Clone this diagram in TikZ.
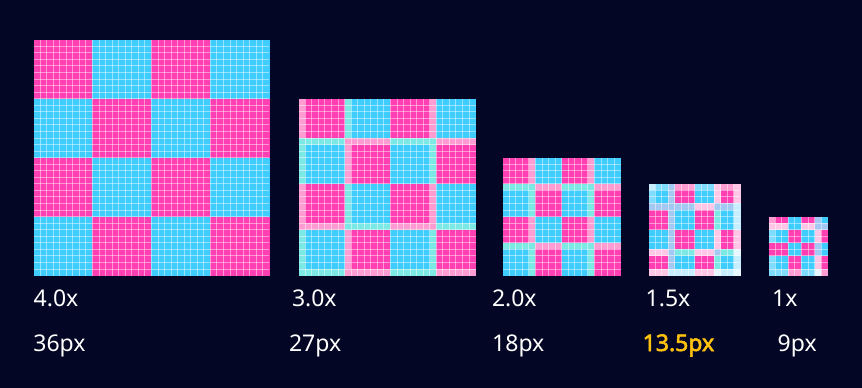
\documentclass[tikz,border=0pt]{standalone}
\usepackage{fontspec}
\setmainfont{Noto Sans}[AutoFakeBold=2.5]
\definecolor{bgc}{RGB}{3,6,36}
\definecolor{zP}{HTML}{FF3FB2}
\definecolor{zC}{HTML}{3FCDFF}
\definecolor{zp}{HTML}{FF9DD3}
\definecolor{zc}{HTML}{7DE9E5}
\definecolor{zb}{HTML}{A3C9F2}
\definecolor{zq}{HTML}{FFC6E6}
\definecolor{zd}{HTML}{C6EEFF}
\definecolor{ze}{HTML}{E6F7FF}
\definecolor{zl}{HTML}{7FDCFF}
\definecolor{amber}{HTML}{FFC20E}
\tikzset{
  gridline/.style={white,opacity=0.45,line width=0.9pt},
  lbl/.style={anchor=base west,inner sep=0pt,text=white,font=\fontsize{23}{27}\selectfont},
  hilbl/.style={anchor=base west,inner sep=0pt,text=amber,font=\fontsize{23}{27}\selectfont\bfseries}
}
% model square: #1 left, #2 top, #3 unit, #4 column map, #5 row map
\newcommand\modelsq[5]{%
  \foreach \ri/\rb [count=\j from 0] in {#5}{%
    \foreach \ci/\cb [count=\i from 0] in {#4}{%
      \pgfmathtruncatemacro\kk{2*mod(\ci+\ri,2)+min(\cb+\rb,1)}%
      \edef\cname{\ifcase\kk zP\or zp\or zC\or zc\fi}%
      \fill[\cname] (#1+\i*#3,#2+\j*#3) rectangle ++(#3+0.25,#3+0.25);
    }}}
% map square: #1 left, #2 top, #3 unit, #4 rows of letters
\newcommand\mapsq[4]{%
  \foreach \rowlist [count=\j from 0] in {#4}{%
    \foreach \ch [count=\i from 0] in \rowlist {%
      \fill[z\ch] (#1+\i*#3,#2+\j*#3) rectangle ++(#3+0.25,#3+0.25);
    }}}
% grid: #1 left, #2 top, #3 unit, #4 N, #5 N-1
\newcommand\gridsq[5]{%
  \foreach \g in {1,...,#5}{%
    \draw[gridline] (#1+\g*#3,#2) -- ++(0,#4*#3);
    \draw[gridline] (#1,#2+\g*#3) -- ++(#4*#3,0);
  }}
\begin{document}
\begin{tikzpicture}[x=1pt,y=-1pt]
\fill[bgc] (0,0) rectangle (862,388);
\useasboundingbox (0,0) rectangle (862,388);
\def\uu{6.55}
% 4.0x square
\foreach \r in {0,...,3}{\foreach \c in {0,...,3}{%
  \pgfmathtruncatemacro\pp{mod(\r+\c,2)}%
  \edef\cname{\ifcase\pp zP\or zC\fi}%
  \fill[\cname] (33.5+\c*9*\uu,39.7+\r*9*\uu) rectangle ++(9*\uu+0.25,9*\uu+0.25);
}}
\gridsq{33.5}{39.7}{\uu}{36}{35}
% 3.0x square
\modelsq{298.7}{98.65}{\uu}{0/1,0/0,0/0,0/0,0/0,0/0,0/0,1/1,1/0,1/0,1/0,1/0,1/0,1/0,2/0,2/0,2/0,2/0,2/0,2/0,2/1,3/0,3/0,3/0,3/0,3/0,3/0}{0/0,0/0,0/0,0/0,0/0,0/0,1/1,1/0,1/0,1/0,1/0,1/0,1/0,2/0,2/0,2/0,2/0,2/0,2/0,2/1,3/0,3/0,3/0,3/0,3/0,3/0,3/1}
\gridsq{298.7}{98.65}{\uu}{27}{26}
% 2.0x square
\modelsq{502.7}{157.6}{\uu}{0/0,0/0,0/0,0/0,0/1,1/0,1/0,1/0,1/0,2/0,2/0,2/0,2/0,2/1,3/0,3/0,3/0,3/0}{0/0,0/0,0/0,0/0,1/1,1/0,1/0,1/0,1/0,2/0,2/0,2/0,2/0,3/1,3/0,3/0,3/0,3/0}
\gridsq{502.7}{157.6}{\uu}{18}{17}
% 1.5x square
\mapsq{648.7}{183.8}{\uu}{%
{d,l,l,b,p,p,p,l,l,l,q,p,p,q},
{l,C,C,b,P,P,P,C,C,C,q,P,P,q},
{l,C,C,b,P,P,P,C,C,C,q,P,P,q},
{b,b,b,b,b,b,b,q,q,q,b,b,b,d},
{P,P,P,b,C,C,C,P,P,P,c,C,C,d},
{P,P,P,b,C,C,C,P,P,P,c,C,C,d},
{P,P,P,b,C,C,C,P,P,P,c,C,C,d},
{C,C,C,b,P,P,P,C,C,C,q,P,P,q},
{C,C,C,b,P,P,P,C,C,C,q,P,P,q},
{C,C,C,b,P,P,P,C,C,C,q,P,P,q},
{q,q,q,b,c,c,c,q,q,q,b,c,c,e},
{P,P,P,b,C,C,C,P,P,P,c,C,C,d},
{P,P,P,b,C,C,C,P,P,P,c,C,C,d},
{q,q,q,d,d,d,d,q,q,q,e,d,d,e}}
\gridsq{648.7}{183.8}{\uu}{14}{13}
% 1x square
\mapsq{768.7}{216.55}{\uu}{%
{p,P,P,C,C,P,P,b,C},
{q,q,q,C,C,q,q,b,b},
{l,C,C,P,P,C,C,q,P},
{l,C,C,P,P,C,C,q,P},
{P,P,P,C,C,P,P,b,C},
{P,P,P,C,C,P,P,b,C},
{l,C,C,P,P,C,C,q,P},
{l,C,C,P,P,C,C,q,P},
{l,l,l,p,p,l,l,e,p}}
\gridsq{768.7}{216.55}{\uu}{9}{8}
% labels
\node[lbl] (s1) at (33.5,306.5) {4.0x};
\node[lbl] (p1) at (33.2,351) {36px};
\node[lbl] (s2) at (291.8,306.5) {3.0x};
\node[lbl] (p2) at (288.8,351) {27px};
\node[lbl] (s3) at (491.8,306.5) {2.0x};
\node[lbl] (p3) at (492,351) {18px};
\node[lbl] (s4) at (645.5,306.5) {1.5x};
\node[hilbl] (p4) at (642.5,351) {13.5px};
\node[lbl] (s5) at (772,306.5) {1x};
\node[lbl] (p5) at (777.5,351) {9px};
\end{tikzpicture}
\end{document}
